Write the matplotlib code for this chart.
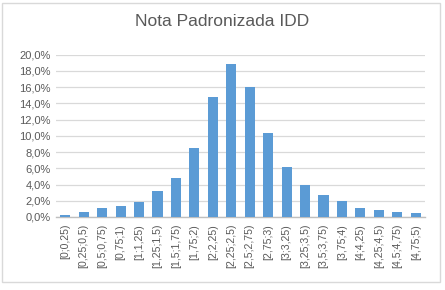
import numpy as np
import matplotlib.pyplot as plt
from matplotlib.patches import FancyBboxPatch
from matplotlib.ticker import FuncFormatter

# ---------------------------
# DATA
# ---------------------------
faixas = ["[0;0,25)", "[0,25;0,5)", "[0,5;0,75)", "[0,75;1)", "[1;1,25)",
          "[1,25;1,5)", "[1,5;1,75)", "[1,75;2)", "[2;2,25)", "[2,25;2,5)",
          "[2,5;2,75)", "[2,75;3)", "[3;3,25)", "[3,25;3,5)", "[3,5;3,75)",
          "[3,75;4)", "[4;4,25)", "[4,25;4,5)", "[4,5;4,75)", "[4,75;5)"]
percentual = [0.3, 0.6, 1.1, 1.4, 1.9, 3.2, 4.75, 8.55, 14.75, 18.9,
              16.0, 10.3, 6.2, 3.9, 2.7, 1.95, 1.1, 0.85, 0.57, 0.5]

# ---------------------------
# PLOT
# ---------------------------
plt.rcParams["font.family"] = ["Liberation Sans", "DejaVu Sans"]

fig = plt.figure(figsize=(4.45, 2.9), dpi=100)
ax = fig.add_axes([56 / 445, 1 - 217 / 290, 369 / 445, (217 - 54.7) / 290])

x = np.arange(len(faixas))
ax.bar(x, percentual, width=0.55, color="#5B9BD5", zorder=3)

ax.set_ylim(0, 20)
ax.set_xlim(-0.5, len(faixas) - 0.5)
ax.set_yticks(np.arange(0, 21, 2))
ax.yaxis.set_major_formatter(FuncFormatter(lambda v, p: f"{v:.1f}%".replace(".", ",")))
ax.set_xticks(x)
ax.set_xticklabels(faixas, rotation=90)

ax.grid(axis="y", color="#D9D9D9", linewidth=0.9, zorder=0)
for s in ["top", "right", "left"]:
    ax.spines[s].set_visible(False)
ax.spines["bottom"].set_color("#BFBFBF")
ax.spines["bottom"].set_linewidth(1.0)
ax.tick_params(axis="y", length=0, labelsize=8, colors="#595959", pad=4)
ax.tick_params(axis="x", length=0, labelsize=7.6, colors="#595959", pad=5)

fig.text(0.5, 1 - 22 / 290, "Nota Padronizada IDD", ha="center", va="center",
         fontsize=12.5, color="#595959")

# chart border
fig.patches.append(FancyBboxPatch((1.5 / 445, 1 - 282 / 290), 438 / 445, 279 / 290,
                                  boxstyle="square,pad=0", transform=fig.transFigure,
                                  fill=False, edgecolor="#D9D9D9", linewidth=1.0))

fig.savefig("out.png", dpi=100)
